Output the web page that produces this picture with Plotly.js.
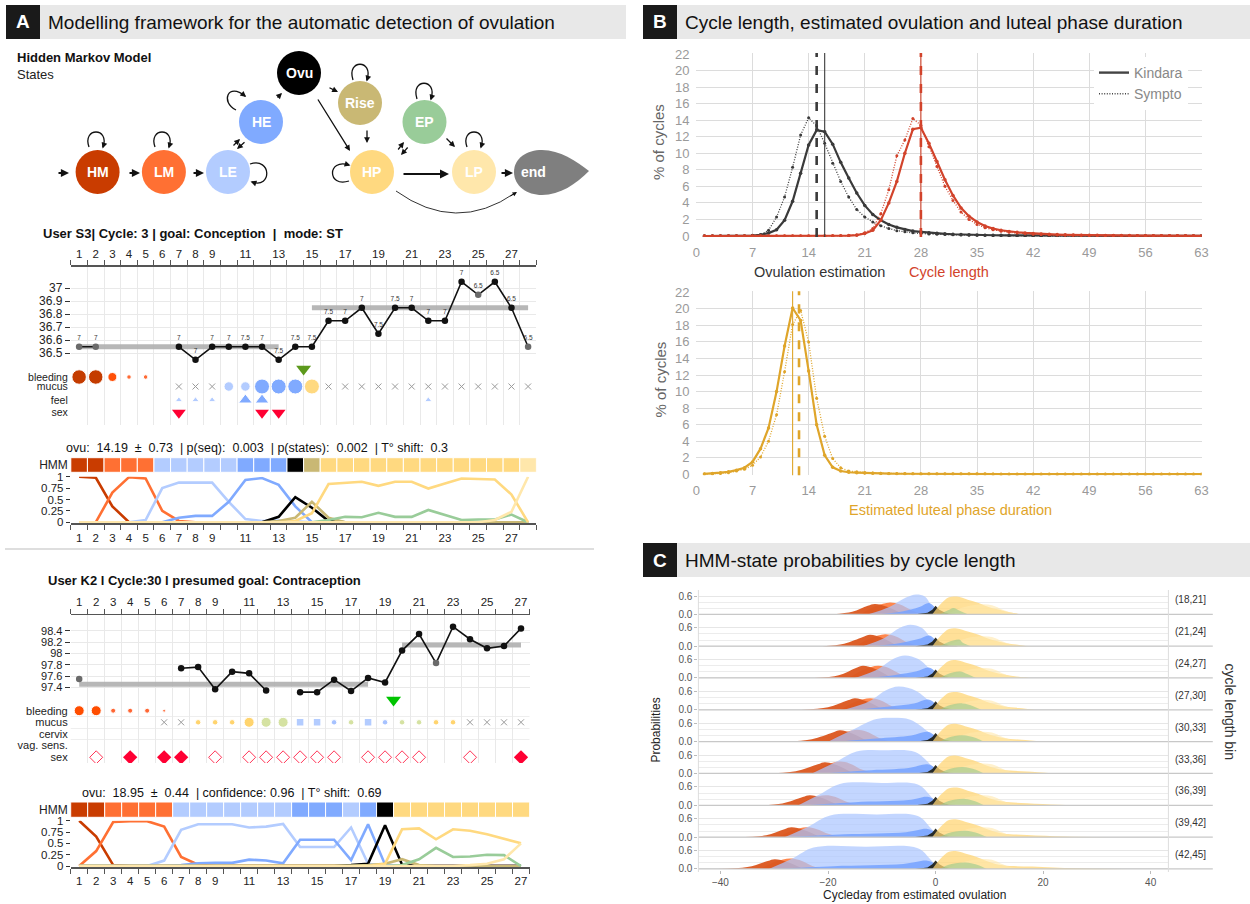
<!DOCTYPE html>
<html><head><meta charset="utf-8">
<script src="https://cdn.plot.ly/plotly-3.0.1.min.js"></script>
<style>html,body{margin:0;padding:0;background:#fff}#chart{width:1250px;height:904px}</style>
</head><body><div id="chart"></div>
<script>
// ---------------- DATA ----------------
const stateNames=['HM','LM','LE','HE','Ovu','Rise','EP','HP','LP'];

// User S3
const s3Days=[1,2,3,4,5,6,7,8,9,10,11,12,13,14,15,16,17,18,19,20,21,22,23,24,25,26,27,28];
const s3DayLabels=[1,2,3,4,5,6,7,8,9,11,13,15,17,19,21,23,25,27];
const s3Temp=[36.55,36.55,null,null,null,null,36.55,36.45,36.55,36.55,36.55,36.55,36.45,36.55,36.55,36.75,36.75,36.85,36.65,36.85,36.85,36.75,36.75,37.05,36.95,37.05,36.85,36.55];
const s3TempFlag=[1,1,0,0,0,0,0,0,0,0,0,0,0,0,0,0,0,0,0,0,0,0,0,0,1,0,0,1];
const s3Time=['7','7','','','','','7','7','7','7','7.5','7','7.5','7.5','7.5','7.5','7','7','7.5','7.5','7','7','7','7','6.5','6.5','6.5','6.5'];
const s3CoverDays=[[1,13],[15,28]];
const s3CoverTemp=[36.55,36.85];
const s3OvuMark=14.5;
const s3BleedDays=[1,2,3,4,5];
const s3BleedLevel=['heavy','heavy','medium','light','light'];
const s3MucusNoneDays=[7,8,9,16,17,18,19,20,21,22,23,24,25,26,27,28];
const s3MucusDays=[10,11,12,13,14,15];
const s3MucusKind=['LE','LE','HE','HE','HE','HP'];
const s3MucusAmount=['med','med','high','high','high','high'];
const s3FeelDays=[7,8,9,11,12,22];
const s3FeelKind=['LE','LE','LE','HE','HE','LE'];
const s3FeelAmount=['low','low','low','high','high','low'];
const s3SexDays=[7,12,13];
const s3States=['HM','HM','LM','LM','LM','LE','LE','LE','LE','LE','HE','HE','HE','Ovu','Rise','HP','HP','HP','HP','HP','HP','HP','HP','HP','HP','HP','HP','LP'];
const s3ProbHM=[1,0.98,0.35,0,0,0,0,0,0,0,0,0,0,0,0,0,0,0,0,0,0,0,0,0,0,0,0,0];
const s3ProbLM=[0,0,0.65,0.99,0.96,0.25,0.03,0,0,0,0,0,0,0,0,0,0,0,0,0,0,0,0,0,0,0,0,0];
const s3ProbLE=[0,0,0,0,0.05,0.75,0.87,0.87,0.87,0.45,0.07,0.03,0.04,0.02,0,0,0,0,0,0,0,0,0,0,0,0,0,0];
const s3ProbHE=[0,0,0,0,0,0,0.1,0.14,0.14,0.45,0.93,0.97,0.82,0.35,0,0,0,0,0,0,0,0,0,0,0,0,0,0];
const s3ProbOvu=[0,0,0,0,0,0,0,0,0,0,0,0,0.12,0.55,0.32,0.03,0,0,0,0,0,0,0,0,0,0,0,0];
const s3ProbRise=[0,0,0,0,0,0,0,0,0,0,0,0,0.03,0.1,0.45,0.1,0,0,0,0,0,0,0,0,0,0,0,0];
const s3ProbEP=[0,0,0,0,0,0,0,0,0,0,0,0,0,0,0,0.05,0.12,0.11,0.21,0.12,0.12,0.27,0.16,0.05,0.06,0.06,0.17,0];
const s3ProbHP=[0,0,0,0,0,0,0,0,0,0,0,0,0,0.03,0.2,0.84,0.86,0.89,0.8,0.89,0.89,0.74,0.85,0.96,0.95,0.94,0.61,0];
const s3ProbLP=[0,0,0,0,0,0,0,0,0,0,0,0,0,0,0,0,0,0,0,0,0,0,0,0,0,0.05,0.23,1];

// User K2
const k2Days=[1,2,3,4,5,6,7,8,9,10,11,12,13,14,15,16,17,18,19,20,21,22,23,24,25,26,27];
const k2DayLabels=[1,2,3,4,5,6,7,8,9,11,13,15,17,19,21,23,25,27];
const k2Temp=[97.55,null,null,null,null,null,97.74,97.76,97.37,97.68,97.65,97.35,null,97.32,97.32,97.54,97.34,97.57,97.49,98.05,98.34,97.83,98.47,98.25,98.09,98.13,98.44];
const k2TempFlag=[1,0,0,0,0,0,0,0,0,0,0,0,0,0,0,0,0,0,0,0,0,1,0,0,0,0,0];
const k2CoverDays=[[1,18],[20,27]];
const k2CoverTemp=[97.46,98.15];
const k2OvuMark=19.5;
const k2BleedDays=[1,2,3,4,5,6];
const k2BleedLevel=['heavy','heavy','light','light','light','spot'];
const k2MucusNoneDays=[6,7,24,25,26,27];
const k2MucusDays=[8,9,10,11,12,13,16,17,19,20,21,22,23];
const k2MucusKind=['HP','HP','HP','HP','EP','EP','HE','EP','HE','EP','EP','HP','HP'];
const k2MucusAmount=['low','low','low','high','high','high','low','low','low','low','low','low','low'];
const k2MucusSquareDays=[14,15,18];
const k2SexOpenDays=[2,9,11,12,13,14,15,16,18,19,20,21,24];
const k2SexFilledDays=[4,6,7,27];
const k2States=['HM','HM','LM','LM','LM','LM','LE','LE','LE','LE','LE','LE','LE','HE','HE','HE','LE','HE','Ovu','HP','HP','HP','HP','HP','HP','HP','HP'];
const k2ProbHM=[1,0.65,0.02,0,0,0,0,0,0,0,0,0,0,0,0,0,0,0,0,0,0,0,0,0,0,0,0];
const k2ProbLM=[0,0.33,0.97,0.99,0.99,0.87,0.2,0.03,0,0,0,0,0,0,0,0,0,0,0,0,0,0,0,0,0,0,0];
const k2ProbLE=[0,0,0,0,0,0.12,0.8,0.92,0.92,0.92,0.85,0.87,0.93,0.42,0.42,0.42,0.85,0.05,0,0,0,0,0,0,0,0,0];
const k2ProbHE=[0,0,0,0,0,0,0.02,0.06,0.07,0.07,0.14,0.12,0.06,0.58,0.58,0.58,0.13,0.92,0.03,0,0,0,0,0,0,0,0];
const k2ProbOvu=[0,0,0,0,0,0,0,0,0,0,0,0,0,0,0,0,0.02,0.05,0.9,0.03,0,0,0,0,0,0,0];
const k2ProbRise=[0,0,0,0,0,0,0,0,0,0,0,0,0,0,0,0,0,0.02,0.05,0.15,0.02,0,0,0,0,0,0];
const k2ProbEP=[0,0,0,0,0,0,0,0,0,0,0,0,0,0,0,0,0,0,0,0.02,0.15,0.4,0.2,0.21,0.25,0.24,0];
const k2ProbHP=[0,0,0,0,0,0,0,0,0,0,0,0,0,0,0,0,0,0,0.05,0.81,0.83,0.59,0.81,0.78,0.7,0.6,0.5];
const k2ProbLP=[0,0,0,0,0,0,0,0,0,0,0,0,0,0,0,0,0,0,0,0,0,0,0,0.02,0.05,0.15,0.5];

// Panel B
const bDays=[1,2,3,4,5,6,7,8,9,10,11,12,13,14,15,16,17,18,19,20,21,22,23,24,25,26,27,28,29,30,31,32,33,34,35,36,37,38,39,40,41,42,43,44,45,46,47,48,49,50,51,52,53,54,55,56,57,58,59,60,61,62,63];
const bTicks=[0,7,14,21,28,35,42,49,56,63];
const ovuKindara=[0,0,0,0,0,0,0.05, 0.15,0.35,0.75,1.9,4.2,7.6,11.0, 12.8,12.6,11.1,8.9,7.0,5.2,3.7, 2.6,1.9,1.4,1.05,0.8,0.6,0.5, 0.4,0.32,0.26,0.21,0.17,0.14,0.12, 0.1,0.09,0.08,0.07,0.06,0.05,0.05, 0.04,0.04,0.03,0.03,0.03,0.02,0.02, 0.02,0.02,0.02,0.01,0.01,0.01,0.01, 0.01,0.01,0.01,0.01,0.01,0.01,0.01];
const ovuSympto=[0,0,0,0,0,0,0.05, 0.15,0.7,2.3,4.7,8.3,12.2,14.3, 13.3,11.2,8.8,6.6,4.7,3.2,2.3, 1.7,1.25,0.9,0.65,0.5,0.38,0.3, 0.24,0.2,0.17,0.14,0.12,0.1,0.09, 0.08,0.07,0.06,0.05,0.05,0.04,0.04, 0.03,0.03,0.03,0.02,0.02,0.02,0.02, 0.01,0.01,0.01,0.01,0.01,0.01,0.01, 0.01,0.01,0.01,0.01,0.01,0.01,0.01];
const cycKindara=[0,0,0,0,0,0,0, 0,0,0,0,0,0,0, 0,0,0.02,0.03,0.05,0.1,0.3, 0.7,1.9,4.0,6.6,10.0,12.9,13.1, 11.2,9.0,6.8,4.9,3.4,2.4,1.7, 1.2,0.9,0.7,0.55,0.45,0.37,0.3, 0.25,0.2,0.17,0.14,0.12,0.1,0.09, 0.08,0.07,0.06,0.05,0.05,0.04,0.04, 0.03,0.03,0.03,0.02,0.02,0.02,0.02];
const cycSympto=[0,0,0,0,0,0,0, 0,0,0,0,0,0,0, 0,0,0,0.02,0.05,0.15,0.4, 0.9,2.7,5.6,9.7,11.6,14.2,13.4, 10.8,8.4,6.0,4.3,2.9,2.0,1.4, 1.0,0.75,0.58,0.45,0.35,0.28,0.22, 0.18,0.15,0.12,0.1,0.09,0.08,0.07, 0.06,0.05,0.05,0.04,0.04,0.03,0.03, 0.03,0.02,0.02,0.02,0.02,0.01,0.01];
const lutKindara=[0.05,0.1,0.2,0.3,0.5,0.8,1.5, 3.1,5.6,10.0,15.5,20.1,18.6,12.5, 6.0,2.3,0.85,0.4,0.25,0.2,0.15, 0.12,0.1,0.08,0.07,0.06,0.05,0.05, 0.04,0.04,0.04,0.03,0.03,0.03,0.03, 0.03,0.02,0.02,0.02,0.02,0.02,0.02, 0.02,0.02,0.01,0.01,0.01,0.01,0.01, 0.01,0.01,0.01,0.01,0.01,0.01,0.01, 0.01,0.01,0.01,0.01,0.01,0.01,0.01];
const lutSympto=[0.03,0.05,0.1,0.2,0.4,0.6,1.1, 2.1,4.0,7.2,12.4,18.1,19.8,16.0, 9.2,4.6,1.9,0.8,0.4,0.3,0.2, 0.15,0.12,0.1,0.08,0.07,0.06,0.05, 0.05,0.04,0.04,0.04,0.03,0.03,0.03, 0.03,0.03,0.02,0.02,0.02,0.02,0.02, 0.02,0.02,0.01,0.01,0.01,0.01,0.01, 0.01,0.01,0.01,0.01,0.01,0.01,0.01, 0.01,0.01,0.01,0.01,0.01,0.01,0.01];
const ovuMedian={Kindara:16,Sympto:15};
const cycMedian={Kindara:28,Sympto:28};
const lutMedian={Kindara:12,Sympto:12.8};

// Panel C (key points of each state's probability profile, per cycle-length bin)
const cRowLabels=['(18,21]','(21,24]','(24,27]','(27,30]','(30,33]','(33,36]','(36,39]','(39,42]','(42,45]'];
const cTicks=[-40,-20,0,20,40];
const cHMx=[[-19,-15.5,-12.6,-11.3,-9,-6],[-21,-17,-13.5,-12.2,-9.9,-7],[-22.5,-18,-14.8,-13.5,-11.2,-8.2],[-25,-20,-16.3,-15,-12.7,-9.7],[-28,-23,-19.1,-17.8,-15.5,-12.5],[-32,-26,-21.9,-20.6,-18.3,-15.3],[-34,-28.5,-24.7,-23.4,-21.1,-18.1],[-37,-31.5,-28.1,-26.8,-24.5,-21.5],[-40.5,-35,-31.2,-29.9,-27.6,-24.6]];
const cHMy=[[0,0.08,0.28,0.34,0.25,0],[0,0.08,0.30,0.37,0.27,0],[0,0.09,0.33,0.40,0.29,0],[0,0.08,0.31,0.38,0.27,0],[0,0.08,0.30,0.37,0.27,0],[0,0.07,0.30,0.37,0.27,0],[0,0.06,0.27,0.33,0.24,0],[0,0.06,0.26,0.32,0.23,0],[0,0.06,0.26,0.32,0.23,0]];
const cLMx=[[-14,-11.1,-8.5,-6.7,-4.3,-2],[-14.9,-12,-9.4,-7.6,-5.2,-2.9],[-16.2,-13.3,-10.7,-8.9,-6.5,-4.2],[-17.7,-14.8,-12.2,-10.4,-8,-5.7],[-20.2,-17.3,-14.7,-12.9,-10.5,-8.2],[-23.3,-20.4,-17.8,-16,-13.6,-11.3],[-26,-23.1,-20.5,-18.7,-16.3,-14],[-29.5,-26.6,-24,-22.2,-19.8,-17.5],[-32.6,-29.7,-27.1,-25.3,-22.9,-20.6]];
const cLMy=[[0,0.27,0.39,0.33,0.12,0],[0,0.27,0.39,0.33,0.12,0],[0,0.28,0.40,0.34,0.12,0],[0,0.27,0.38,0.32,0.11,0],[0,0.27,0.39,0.33,0.12,0],[0,0.27,0.39,0.33,0.12,0],[0,0.23,0.33,0.28,0.10,0],[0,0.22,0.32,0.27,0.10,0],[0,0.24,0.34,0.29,0.10,0]];
const cLEx=[[-12.5,-8.5,-5.5,-3.6,-2,-0.5,0.6],[-13.5,-9.5,-6.6,-4.7,-2.6,-0.6,0.6],[-15,-10.8,-7.8,-5.7,-3.2,-0.7,0.6],[-17,-12.3,-9.2,-6.9,-3.6,-0.8,0.6],[-20,-15.5,-11,-7.8,-4.7,-1.2,0.6],[-23,-18.5,-14.7,-9,-3.8,-1.0,0.6],[-25.5,-21.5,-17.8,-10,-3.3,-0.9,0.6],[-28,-23.5,-19.6,-11,-3.3,-0.9,0.6],[-31,-26.5,-22.7,-13,-3.3,-0.9,0.6]];
const cLEy=[[0,0.25,0.55,0.65,0.58,0.2,0],[0,0.27,0.6,0.70,0.6,0.2,0],[0,0.28,0.63,0.74,0.62,0.22,0],[0,0.28,0.64,0.76,0.62,0.22,0],[0,0.38,0.74,0.78,0.72,0.3,0],[0,0.38,0.72,0.76,0.70,0.3,0],[0,0.36,0.70,0.73,0.68,0.3,0],[0,0.36,0.71,0.74,0.69,0.3,0],[0,0.35,0.70,0.73,0.68,0.3,0]];
const cHEx=[[-10.5,-6,-3,-1.2,0,0.9],[-11.5,-6.5,-3.2,-1.2,0,0.9],[-13,-7.5,-3.5,-1.3,0,0.9],[-15,-9,-4,-1.4,0,0.9],[-18,-11,-4.5,-1.5,0,0.9],[-21,-13,-5,-1.5,0,0.9],[-24,-15,-5,-1.5,0,0.9],[-27,-17,-5.5,-1.5,0,0.9],[-30,-19,-6,-1.5,0,0.9]];
const cHEy=[[0,0.1,0.24,0.37,0.2,0],[0,0.1,0.23,0.35,0.2,0],[0,0.1,0.22,0.34,0.2,0],[0,0.1,0.21,0.34,0.2,0],[0,0.1,0.2,0.32,0.18,0],[0,0.1,0.18,0.30,0.17,0],[0,0.1,0.17,0.28,0.16,0],[0,0.09,0.16,0.27,0.15,0],[0,0.09,0.16,0.27,0.15,0]];
const cOvux=[-3.8,-1.5,-0.6,0,0.7,1.8,4.2];
const cOvuy=[0,0.05,0.15,0.28,0.15,0.05,0];
const cHPx=[-0.6,1,2.5,4,6,8,10,12.5];
const cHPy=[0,0.35,0.56,0.58,0.48,0.37,0.23,0.12];
const cHPtailx=[[14.5,16],[15,17],[15,17.5],[15.5,18.5],[16,20],[17,22],[17,23,29],[17,24,32],[18,26,35]];
const cHPtaily=[[0.04,0],[0.05,0],[0.05,0],[0.06,0],[0.06,0],[0.06,0],[0.07,0.02,0],[0.07,0.02,0],[0.08,0.02,0]];
const cLPx=[2,5,8,10.5,12.5,14.5];
const cLPy=[0,0.22,0.32,0.30,0.15,0.04];
const cLPend=[16.5,18.5,18,19,20,23,28,32,36];
const cEPpeak=[3.3,4.5,4.5,5,5,5,5.5,5.5,5.5];
const cEPend=[6,6.5,7.5,8.5,9,9,9,9.5,9.5];

// ---------------- STYLE / LAYOUT HELPERS ----------------
const W=1250,H=904;
const F='"Liberation Sans", Arial, Helvetica, sans-serif';
const X=p=>p/W, Y=p=>1-p/H;
const dX=(a,b)=>[a/W,b/W], dY=(t,b)=>[1-b/H,1-t/H];
const stateColor={HM:'#C93C00',LM:'#FF7033',LE:'#B3CCFF',HE:'#80AAFF',Ovu:'#000000',Rise:'#C9B874',EP:'#99CC99',HP:'#FFD980',LP:'#FFE7AB'};
const data=[];
const layout={width:W,height:H,margin:{l:0,r:0,t:0,b:0},paper_bgcolor:'#fff',plot_bgcolor:'rgba(0,0,0,0)',
  font:{family:F,color:'#222'},showlegend:true,shapes:[],annotations:[],
  legend:{x:X(1094),y:Y(57),xanchor:'left',yanchor:'top',bgcolor:'#fff',font:{family:F,size:14,color:'#888'},tracegroupgap:0,itemwidth:30}};
const S=layout.shapes, A=layout.annotations;
function ann(text,x,y,o={}){A.push({text,x:X(x),y:Y(y),xref:'paper',yref:'paper',showarrow:false,xanchor:o.xa||'left',yanchor:o.ya||'middle',textangle:o.angle||0,font:{family:F,size:o.size||12,color:o.color||'#222'}});}
function arrow(tx,ty,fx,fy,w,sz){A.push({text:'',x:X(tx),y:Y(ty),xref:'paper',yref:'paper',ax:fx-tx,ay:fy-ty,axref:'pixel',ayref:'pixel',showarrow:true,arrowhead:2,arrowsize:sz||0.9,arrowwidth:w||1.3,arrowcolor:'#111'});}
const P=(x,y)=>`${X(x)},${Y(y)}`;

// ---------------- HEADERS ----------------
function header(letter,title,x0,x1,y0,y1){
  S.push({type:'rect',xref:'paper',yref:'paper',x0:X(x0),x1:X(x1),y0:Y(y1),y1:Y(y0),fillcolor:'#e8e8e8',line:{width:0}});
  S.push({type:'rect',xref:'paper',yref:'paper',x0:X(x0),x1:X(x0+34),y0:Y(y1),y1:Y(y0),fillcolor:'#1a1a1a',line:{width:0}});
  ann('<b>'+letter+'</b>',x0+17,(y0+y1)/2,{xa:'center',size:19,color:'#fff'});
  ann(title,x0+40,(y0+y1)/2+0.5,{size:19,color:'#111'});
}
header('A','Modelling framework for the automatic detection of ovulation',6,626,5,39);
header('B','Cycle length, estimated ovulation and luteal phase duration',643,1250,5,39);
header('C','HMM-state probabilities by cycle length',643,1250,543,577);

// ---------------- HMM DIAGRAM ----------------
ann('<b>Hidden Markov Model</b>',15,57,{size:13,color:'#111'});
ann('States',15,75,{size:13,color:'#222'});
const nodes=[['HM',97.6,172],['LM',163.9,172],['LE',228,172],['HE',261,122],['Ovu',299,73],['Rise',360,103],['EP',424.5,122],['HP',372,172],['LP',474,172]];
nodes.forEach(([n,cx,cy])=>{
  const r=22;
  S.push({type:'circle',xref:'paper',yref:'paper',x0:X(cx-r),x1:X(cx+r),y0:Y(cy+r),y1:Y(cy-r),fillcolor:stateColor[n],line:{width:0}});
  ann('<b>'+n+'</b>',cx,cy,{xa:'center',size:14,color:'#fff'});
});
S.push({type:'path',xref:'paper',yref:'paper',path:`M ${P(514,172)} C ${P(514,158)} ${P(527,150)} ${P(542,150)} C ${P(560,150)} ${P(576,161)} ${P(589,171)} C ${P(576,184)} ${P(560,195)} ${P(542,195)} C ${P(527,195)} ${P(514,186)} ${P(514,172)} Z`,fillcolor:'#7f7f7f',line:{width:0}});
ann('<b>end</b>',533,172,{xa:'center',size:14,color:'#fff'});
// straight transitions
arrow(69,173,57,173,1.8);
arrow(140,173,128,173,1.8);
arrow(204,173,192,173,1.8);
arrow(240,139,232,147,1.3);
arrow(237,149,246,141,1.3);
arrow(282,93,276,99,1.3);
arrow(338,92,328,87,1.3);
arrow(350,151,317,98,1.3);
arrow(367,143,367,129,1.3);
arrow(404,142,397,151,1.3);
arrow(401,155,409,146,1.3);
arrow(455,147,445,137,1.3);
arrow(449,174,402,174,2);
arrow(513,173,500,173,1.8);
// curved HP -> end
S.push({type:'path',xref:'paper',yref:'paper',path:`M ${P(396,191)} Q ${P(456,234)} ${P(515,193)}`,line:{color:'#333',width:1}});
arrow(517,192,509,197,1,0.9);
// self loops
const loops=[[[89,147],[82,127],[110,127],[103,147]],[[155,147],[148,127],[176,127],[169,147]],[[250,164],[272,157],[272,189],[252,182]],[[236,110],[220,102],[228,82],[245,96]],[[353,80],[346,59],[374,59],[367,80]],[[417,99],[410,78],[438,78],[431,99]],[[349,181],[327,188],[327,158],[349,165]],[[467,147],[460,127],[488,127],[481,147]]];
loops.forEach(([a,b,c,d])=>{
  S.push({type:'path',xref:'paper',yref:'paper',path:`M ${P(a[0],a[1])} C ${P(b[0],b[1])} ${P(c[0],c[1])} ${P(d[0],d[1])}`,line:{color:'#111',width:1.3}});
  const dx=d[0]-c[0],dy=d[1]-c[1],L=Math.hypot(dx,dy);
  arrow(d[0]+dx/L*1.5,d[1]+dy/L*1.5,d[0]-dx/L*5,d[1]-dy/L*5,1.3,0.9);
});

// ---------------- CYCLE CHARTS (panel A) ----------------
function dayTop(domain,range,anchor,labels){return {domain,range,anchor,side:'top',tickmode:'array',tickvals:labels,ticks:'',showgrid:false,zeroline:false,showline:true,linecolor:'#555',linewidth:1.5,ticklabelstandoff:3,tickfont:{size:11.5,color:'#222'},minor:{tick0:0.5,dtick:1,ticks:'outside',ticklen:5,tickcolor:'#555',tickwidth:1,showgrid:true,gridcolor:'#e9e9e9',gridwidth:1},fixedrange:true};}
function dayBot(domain,range,anchor,labels){return {domain,range,anchor,side:'bottom',tickmode:'array',tickvals:labels,ticks:'',showgrid:false,zeroline:false,showline:true,linecolor:'#555',linewidth:1.5,ticklabelstandoff:3,tickfont:{size:11.5,color:'#222'},minor:{tick0:0.5,dtick:1,ticks:'outside',ticklen:5,tickcolor:'#555',tickwidth:1,showgrid:false},fixedrange:true};}
function tempAx(domain,range,anchor,vals,fs){return {domain,range,anchor,tickmode:'array',tickvals:vals,ticks:'outside',ticklen:5,tickcolor:'#333',showgrid:true,gridcolor:'#e9e9e9',zeroline:false,showline:false,tickfont:{size:fs,color:'#222'},fixedrange:true};}
function rowAx(domain,range,anchor,vals,text,fs){return {domain,range,anchor,tickmode:'array',tickvals:vals,ticktext:text,ticks:'',showgrid:false,zeroline:false,showline:false,ticklabelstandoff:2,tickfont:{size:fs,color:'#222'},fixedrange:true};}
function probAx(domain,anchor){return {domain,range:[-0.022,1.0],anchor,tickmode:'array',tickvals:[0,0.25,0.5,0.75,1],ticktext:['0','0.25','0.5','0.75','1'],ticks:'outside',ticklen:4,tickcolor:'#333',showgrid:false,zeroline:false,showline:false,tickfont:{size:11.5,color:'#222'},fixedrange:true};}
function stripAx(domain,anchor){return {domain,range:[0,1],anchor,tickmode:'array',tickvals:[0.5],ticktext:['HMM'],ticks:'',showgrid:false,zeroline:false,showline:false,ticklabelstandoff:2,tickfont:{size:12,color:'#222'},fixedrange:true};}

function addCycle(d,ax,rows){
  d.coverDays.forEach((c,i)=>data.push({type:'scatter',mode:'lines',x:c,y:[d.coverTemp[i],d.coverTemp[i]],xaxis:ax.xt,yaxis:ax.yt,line:{color:'rgba(175,175,175,0.9)',width:5},showlegend:false,hoverinfo:'skip'}));
  data.push({type:'scatter',mode:'lines',x:d.days,y:d.temp,connectgaps:false,xaxis:ax.xt,yaxis:ax.yt,line:{color:'#111',width:1.6},showlegend:false,hoverinfo:'skip'});
  data.push({type:'scatter',mode:d.time?'markers+text':'markers',x:d.days,y:d.temp,text:d.time||undefined,textposition:'top center',textfont:{size:6.5,color:'#333'},xaxis:ax.xt,yaxis:ax.yt,
    marker:{size:6.5,opacity:1,color:d.flag.map(f=>f?'#6a6a6a':'#111')},showlegend:false,hoverinfo:'skip',cliponaxis:false});
  data.push({type:'scatter',mode:'markers',x:[d.ovu],y:[rows.ovu],xaxis:ax.xt,yaxis:ax.ys,marker:{symbol:'triangle-down',size:13,opacity:1,color:d.ovuColor},showlegend:false,hoverinfo:'skip',cliponaxis:false});
  data.push({type:'scatter',mode:'markers',x:d.bleedDays,y:d.bleedDays.map(()=>rows.bleeding),xaxis:ax.xt,yaxis:ax.ys,marker:{opacity:1,size:d.bleedLevel.map(l=>d.bleedSize[l]),color:d.bleedLevel.map(l=>d.bleedColor[l])},showlegend:false,hoverinfo:'skip',cliponaxis:false});
  data.push({type:'scatter',mode:'markers',x:d.mucusNone,y:d.mucusNone.map(()=>rows.mucus),xaxis:ax.xt,yaxis:ax.ys,marker:{symbol:'x-thin-open',size:6,opacity:1,color:'#9a9a9a',line:{color:'#9a9a9a',width:1}},showlegend:false,hoverinfo:'skip'});
  data.push({type:'scatter',mode:'markers',x:d.mucusDays,y:d.mucusDays.map(()=>rows.mucus),xaxis:ax.xt,yaxis:ax.ys,marker:{opacity:1,size:d.mucusAmount.map(a=>d.mucusSize[a]),color:d.mucusKind.map(k=>d.mucusColor[k])},showlegend:false,hoverinfo:'skip',cliponaxis:false});
  if(d.squareDays) data.push({type:'scatter',mode:'markers',x:d.squareDays,y:d.squareDays.map(()=>rows.mucus),xaxis:ax.xt,yaxis:ax.ys,marker:{symbol:'square',size:6.5,opacity:1,color:'#B3CCFF'},showlegend:false,hoverinfo:'skip'});
  if(d.feelDays) data.push({type:'scatter',mode:'markers',x:d.feelDays,y:d.feelDays.map(()=>rows.feel),xaxis:ax.xt,yaxis:ax.ys,marker:{symbol:'triangle-up',opacity:1,size:d.feelAmount.map(a=>a==='high'?12:6.5),color:d.feelKind.map(k=>stateColor[k])},showlegend:false,hoverinfo:'skip'});
  if(d.sexDown) data.push({type:'scatter',mode:'markers',x:d.sexDown,y:d.sexDown.map(()=>rows.sex),xaxis:ax.xt,yaxis:ax.ys,marker:{symbol:'triangle-down',size:12,opacity:1,color:'#FF0033'},showlegend:false,hoverinfo:'skip'});
  if(d.sexOpen) data.push({type:'scatter',mode:'markers',x:d.sexOpen,y:d.sexOpen.map(()=>rows.sex),xaxis:ax.xt,yaxis:ax.ys,marker:{symbol:'diamond-open',size:10,opacity:1,color:'#FF3355',line:{color:'#FF3355',width:1}},showlegend:false,hoverinfo:'skip'});
  if(d.sexFilled) data.push({type:'scatter',mode:'markers',x:d.sexFilled,y:d.sexFilled.map(()=>rows.sex),xaxis:ax.xt,yaxis:ax.ys,marker:{symbol:'diamond',size:11,opacity:1,color:'#FF0033'},showlegend:false,hoverinfo:'skip'});
  data.push({type:'bar',x:d.days,y:d.days.map(()=>1),width:1,base:0,xaxis:ax.xb,yaxis:ax.yh,marker:{color:d.states.map(s=>stateColor[s]),line:{color:'#fff',width:1}},showlegend:false,hoverinfo:'skip'});
  stateNames.forEach(s=>data.push({type:'scatter',mode:'lines',x:d.days,y:d.prob[s],xaxis:ax.xb,yaxis:ax.yp,line:{color:stateColor[s],width:2.6},showlegend:false,hoverinfo:'skip'}));
}

// S3
const rowsS3={ovu:369,bleeding:377,mucus:386.5,feel:400,sex:412.7};
addCycle({days:s3Days,temp:s3Temp,flag:s3TempFlag,time:s3Time,coverDays:s3CoverDays,coverTemp:s3CoverTemp,ovu:s3OvuMark,ovuColor:'#5C991C',
  bleedDays:s3BleedDays,bleedLevel:s3BleedLevel,bleedSize:{heavy:14.5,medium:9,light:4.5},bleedColor:{heavy:'#C43C00',medium:'#FF5008',light:'#FF6A33'},
  mucusNone:s3MucusNoneDays,mucusDays:s3MucusDays,mucusKind:s3MucusKind,mucusAmount:s3MucusAmount,mucusSize:{med:9.5,high:15},mucusColor:{LE:'#B3CCFF',HE:'#80AAFF',HP:'#FFD980'},
  feelDays:s3FeelDays,feelKind:s3FeelKind,feelAmount:s3FeelAmount,sexDown:s3SexDays,states:s3States,
  prob:{HM:s3ProbHM,LM:s3ProbLM,LE:s3ProbLE,HE:s3ProbHE,Ovu:s3ProbOvu,Rise:s3ProbRise,EP:s3ProbEP,HP:s3ProbHP,LP:s3ProbLP}},
  {xt:'x',yt:'y',ys:'y2',xb:'x2',yh:'y3',yp:'y4'},rowsS3);
layout.xaxis=dayTop(dX(70.8,536.4),[0.5,28.5],'y',s3DayLabels);
layout.yaxis=tempAx(dY(266.7,362),[36.433,37.166],'x',[36.5,36.6,36.7,36.8,36.9,37],12);
layout.yaxis2=rowAx(dY(362,425),[425,362],'x',[rowsS3.bleeding,rowsS3.mucus,rowsS3.feel,rowsS3.sex],['bleeding','mucus','feel','sex'],10.5);
layout.xaxis2=dayBot(dX(70.8,536.4),[0.5,28.5],'y4',s3DayLabels);
layout.yaxis3=stripAx(dY(457.7,472.3),'x2');
layout.yaxis4=probAx(dY(476.7,523.3),'x2');
ann('<b>User S3| Cycle: 3 | goal: Conception \u00a0| \u00a0mode: ST</b>',41,233,{size:13,color:'#111'});
ann('ovu: \u00a014.19 \u00a0± \u00a00.73 \u00a0| p(seq): \u00a00.003 \u00a0| p(states): \u00a00.002 \u00a0| T° shift: \u00a00.3',63.5,448,{size:12.5,color:'#111'});
S.push({type:'line',xref:'paper',yref:'paper',x0:X(5),x1:X(594),y0:Y(549),y1:Y(549),line:{color:'#bdbdbd',width:1}});

// K2
const rowsK2={ovu:700,bleeding:710.7,mucus:722.3,cervix:734.3,vag:744.7,sex:757.3};
addCycle({days:k2Days,temp:k2Temp,flag:k2TempFlag,time:null,coverDays:k2CoverDays,coverTemp:k2CoverTemp,ovu:k2OvuMark,ovuColor:'#00C400',
  bleedDays:k2BleedDays,bleedLevel:k2BleedLevel,bleedSize:{heavy:10,light:5,spot:3},bleedColor:{heavy:'#FF4D00',light:'#FF6633',spot:'#FF7A4D'},
  mucusNone:k2MucusNoneDays,mucusDays:k2MucusDays,mucusKind:k2MucusKind,mucusAmount:k2MucusAmount,mucusSize:{low:5.5,high:10},mucusColor:{HP:'#FFD46E',EP:'#D5E2A2',HE:'#A6C2FF'},
  squareDays:k2MucusSquareDays,sexOpen:k2SexOpenDays,sexFilled:k2SexFilledDays,states:k2States,
  prob:{HM:k2ProbHM,LM:k2ProbLM,LE:k2ProbLE,HE:k2ProbHE,Ovu:k2ProbOvu,Rise:k2ProbRise,EP:k2ProbEP,HP:k2ProbHP,LP:k2ProbLP}},
  {xt:'x3',yt:'y5',ys:'y6',xb:'x4',yh:'y7',yp:'y8'},rowsK2);
layout.xaxis3=dayTop(dX(70.7,529.5),[0.5,27.5],'y5',k2DayLabels);
layout.yaxis5=tempAx(dY(615,695),[97.27,98.675],'x3',[97.4,97.6,97.8,98,98.2,98.4],11);
layout.yaxis6=rowAx(dY(695,763),[763,695],'x3',[rowsK2.bleeding,rowsK2.mucus,rowsK2.cervix,rowsK2.vag,rowsK2.sex],['bleeding','mucus','cervix','vag. sens.','sex'],11);
layout.xaxis4=dayBot(dX(70.7,529.5),[0.5,27.5],'y8',k2DayLabels);
layout.yaxis7=stripAx(dY(802,817.3),'x4');
layout.yaxis8=probAx(dY(820.7,867),'x4');
[716.5,728.5,739.5].forEach(v=>S.push({type:'line',xref:'x3 domain',yref:'y6',x0:0,x1:1,y0:v,y1:v,line:{color:'#eeeeee',width:1},layer:'below'}));
ann('<b>User K2 l Cycle:30 l presumed goal: Contraception</b>',46,580,{size:13,color:'#111'});
ann('ovu: \u00a018.95 \u00a0± \u00a00.44 \u00a0| confidence: 0.96 \u00a0| T° shift: \u00a00.69',80,792.7,{size:12.5,color:'#111'});

// ---------------- PANEL B ----------------
const grey='#3a3a3a', red='#D2432B', gold='#DFA52A';
function bAxX(anchor){return {domain:dX(696.4,1201.5),range:[0,63],anchor,tickmode:'array',tickvals:bTicks,ticks:'',showgrid:true,gridcolor:'#dcdcdc',gridwidth:1,zeroline:false,showline:false,ticklabelstandoff:6,tickfont:{size:13,color:'#9a9a9a'},fixedrange:true};}
function bAxY(domain,anchor){return {domain,range:[-0.12,22.12],anchor,tickmode:'linear',tick0:0,dtick:2,ticks:'',showgrid:true,gridcolor:'#dcdcdc',gridwidth:1,zeroline:false,showline:false,ticklabelstandoff:6,tickfont:{size:13,color:'#9a9a9a'},fixedrange:true};}
layout.xaxis5=bAxX('y9'); layout.yaxis9=bAxY(dY(53,237),'x5');
layout.xaxis6=bAxX('y10'); layout.yaxis10=bAxY(dY(291.3,475.3),'x6');
const dotDash='1px,1.6px';
function bLine(y,color,solid,xa,ya){data.push({type:'scatter',mode:'lines+markers',x:bDays,y,xaxis:xa,yaxis:ya,line:{color,width:solid?2.2:1.3,dash:solid?'solid':dotDash},marker:{size:solid?3.5:3,color},showlegend:false,hoverinfo:'skip'});}
bLine(ovuSympto,grey,false,'x5','y9'); bLine(ovuKindara,grey,true,'x5','y9');
bLine(cycSympto,red,false,'x5','y9'); bLine(cycKindara,red,true,'x5','y9');
bLine(lutSympto,gold,false,'x6','y10'); bLine(lutKindara,gold,true,'x6','y10');
function median(v,color,solid,xa,ya){S.push({type:'line',xref:xa,yref:ya+' domain',x0:v,x1:v,y0:0,y1:1,line:{color,width:solid?1.1:2.6,dash:solid?'solid':'dash'}});}
median(ovuMedian.Kindara,grey,true,'x5','y9'); median(ovuMedian.Sympto,grey,false,'x5','y9');
median(cycMedian.Kindara,red,true,'x5','y9'); median(cycMedian.Sympto,red,false,'x5','y9');
median(lutMedian.Kindara,gold,true,'x6','y10'); median(lutMedian.Sympto,gold,false,'x6','y10');
data.push({type:'scatter',mode:'lines',x:[null],y:[null],xaxis:'x5',yaxis:'y9',name:'Kindara',line:{color:'#444',width:2.4}});
data.push({type:'scatter',mode:'lines',x:[null],y:[null],xaxis:'x5',yaxis:'y9',name:'Sympto',line:{color:'#444',width:1.4,dash:dotDash}});
ann('% of cycles',659,142,{xa:'center',angle:-90,size:15,color:'#666'});
ann('% of cycles',659.5,380,{xa:'center',angle:-90,size:15,color:'#666'});
ann('Ovulation estimation',819,272,{xa:'center',size:14.5,color:'#333'});
ann('Cycle length',949,272,{xa:'center',size:14.5,color:red});
ann('Estimated luteal phase duration',950,510.3,{xa:'center',size:14.5,color:gold});

// ---------------- PANEL C ----------------
const rowBase=r=>614.3+31.83*r;
layout.xaxis7={domain:dX(698.4,1168.4),range:[-44.1,43.3],anchor:'y19',tickmode:'array',tickvals:cTicks,ticks:'outside',ticklen:3,tickcolor:'#bbb',showgrid:false,zeroline:false,showline:false,tickfont:{size:10,color:'#555'},fixedrange:true};
const cFill={HM:'rgba(220,88,32,0.96)',LM:'rgba(255,122,58,0.9)',LE:'rgba(172,198,255,0.72)',HE:'rgba(118,162,255,0.85)',Ovu:'rgba(28,28,18,0.9)',HP:'rgba(255,214,118,0.75)',LP:'rgba(255,231,172,0.6)',EP:'rgba(140,198,140,0.55)'};
function area(xs,ys,col,yaxis,lin){data.push({type:'scatter',mode:'lines',x:xs,y:ys,fill:'toself',fillcolor:col,line:{width:0,shape:lin?'linear':'spline',smoothing:1},xaxis:'x7',yaxis,showlegend:false,hoverinfo:'skip'});}
cRowLabels.forEach((lab,r)=>{
  const b=rowBase(r), ya='y'+(11+r);
  layout['yaxis'+(11+r)]={domain:dY(b-24.4,b+1.5),range:[-0.049,0.8],anchor:'x7',tickmode:'array',tickvals:[0,0.6],ticktext:['0.0','0.6'],ticks:'outside',ticklen:3,tickcolor:'#bbb',showgrid:true,gridcolor:'#e6e6e6',zeroline:false,showline:false,tickfont:{size:10,color:'#555'},minor:{tickmode:'array',tickvals:[0.2,0.4,0.8],ticks:'',showgrid:true,gridcolor:'#ececec'},fixedrange:true};
  area(cLMx[r],cLMy[r],cFill.LM,ya);
  area(cHMx[r],cHMy[r],cFill.HM,ya);
  area(cLEx[r],cLEy[r],cFill.LE,ya);
  area(cHEx[r],cHEy[r],cFill.HE,ya);
  area(cOvux,cOvuy,cFill.Ovu,ya,true);
  area(cHPx.concat(cHPtailx[r]),cHPy.concat(cHPtaily[r]),cFill.HP,ya);
  area(cLPx.concat([cLPend[r]]),cLPy.concat([0]),cFill.LP,ya);
  area([0.8,2.3,cEPpeak[r],cEPend[r]-1.5,cEPend[r]],[0,0.13,0.21,0.12,0],cFill.EP,ya);
  S.push({type:'line',xref:'paper',yref:ya,x0:X(698.4),x1:X(1212.8),y0:0,y1:0,line:{color:'#c8c8c8',width:1.3}});
  A.push({text:lab,x:X(1190.6),y:0.47,xref:'paper',yref:ya,showarrow:false,xanchor:'center',yanchor:'middle',font:{family:F,size:10,color:'#333'}});
});
S.push({type:'line',xref:'paper',yref:'paper',x0:X(1168.4),x1:X(1168.4),y0:Y(872),y1:Y(590),line:{color:'#dddddd',width:1}});
S.push({type:'line',xref:'paper',yref:'paper',x0:X(698.4),x1:X(698.4),y0:Y(872),y1:Y(590),line:{color:'#dddddd',width:1}});
ann('Probabilities',655.6,730,{xa:'center',angle:-90,size:12,color:'#222'});
ann('cycle length bin',1229.5,712,{xa:'center',angle:90,size:14,color:'#333'});
ann('Cycleday from estimated ovulation',914,895,{xa:'center',size:12,color:'#222'});

Plotly.newPlot('chart',data,layout,{staticPlot:true,displayModeBar:false});
</script></body></html>
